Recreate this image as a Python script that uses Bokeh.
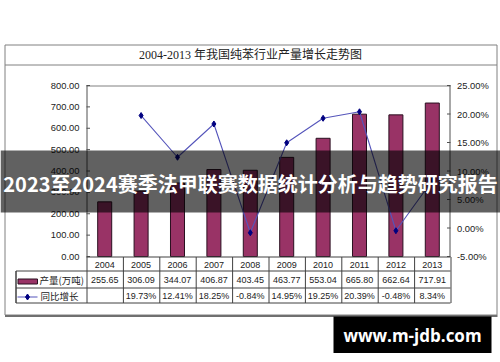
from bokeh.plotting import figure
from bokeh.models import Range1d
from bokeh.core.properties import value
from bokeh.embed import file_html
from bokeh.resources import INLINE

# ---------------- data ----------------
years = ["2004", "2005", "2006", "2007", "2008", "2009", "2010", "2011", "2012", "2013"]
output = [255.65, 306.09, 344.07, 406.87, 403.45, 463.77, 553.04, 665.80, 662.64, 717.91]
growth = [None, 19.73, 12.41, 18.25, -0.84, 14.95, 19.25, 20.39, -0.48, 8.34]
left_ticks = [0, 100, 200, 300, 400, 500, 600, 700, 800]
right_ticks = [-5, 0, 5, 10, 15, 20, 25]
chart_title = "2004-2013 年我国纯苯行业产量增长走势图"
series_names = ["产量(万吨)", "同比增长"]
banner_text = "2023至2024赛季法甲联赛数据统计分析与趋势研究报告"
watermark_text = "www.m-jdb.com"

# ---------------- geometry (canvas pixels) ----------------
W, H = 500, 362
PL, PR, PT, PB = 86, 450, 85, 256          # plot area
N = len(years)
colw = (PR - PL) / N
YMIN, YMAX = left_ticks[0], left_ticks[-1]
ppu = (PB - PT) / (YMAX - YMIN)
PMIN, PMAX = right_ticks[0], right_ticks[-1]
ppp = (PB - PT) / (PMAX - PMIN)

p = figure(width=W, height=H,
           x_range=Range1d(-PL / colw, (W - PL) / colw),
           y_range=Range1d(YMIN - (H - PB) / ppu, YMAX + PT / ppu),
           x_axis_location=None, y_axis_location=None,
           output_backend="svg", toolbar_location=None,
           min_border=0)
p.extra_x_ranges = {"px": Range1d(0, W)}
p.extra_y_ranges = {"pct": Range1d(PMIN - (H - PB) / ppp, PMAX + PT / ppp),
                    "px": Range1d(H, 0)}
p.grid.visible = False
p.outline_line_color = None
p.background_fill_color = "white"
p.border_fill_color = "white"

AX_FONT = value("Liberation Sans")
CJK = value("Noto Sans CJK SC")
TXT = "#222222"
AXC = "#505050"
GRAYL = "#808080"
TBL = "#404040"
BAR = "#993366"
BAR_EDGE = "#2a1020"
LINE = "#5555bb"
MARK = "#000080"

xi = [years.index(y) + 0.5 for y in years]      # category centres

# ---------------- frame: outer box and title cell ----------------
p.quad(left=[4.5], right=[496.5], top=[44.5], bottom=[314.5], fill_color=None,
       line_color=GRAYL, line_width=1, x_range_name="px", y_range_name="px")
p.segment(x0=[4.5], x1=[496.5], y0=[64.5], y1=[64.5], line_color=GRAYL,
          x_range_name="px", y_range_name="px")
p.quad(left=[4.5], right=[497], top=[314.5], bottom=[316.5], fill_color="#707070",
       line_color=None, x_range_name="px", y_range_name="px")
p.text(x=[250], y=[54.5], text=[chart_title], text_align="center", text_baseline="middle",
       text_font=value("Liberation Serif, Noto Sans CJK SC"), text_font_size="12px",
       text_color=TXT, x_range_name="px", y_range_name="px")

# ---------------- plot area border & axes ----------------
p.segment(x0=[PL], x1=[PR], y0=[PT + 0.5], y1=[PT + 0.5], line_color=GRAYL,
          x_range_name="px", y_range_name="px")
p.segment(x0=[PL + 0.5], x1=[PL + 0.5], y0=[PT], y1=[PB], line_color=AXC,
          x_range_name="px", y_range_name="px")
p.segment(x0=[PR - 0.5], x1=[PR - 0.5], y0=[PT], y1=[PB], line_color=AXC,
          x_range_name="px", y_range_name="px")
p.segment(x0=[PL] * len(left_ticks), x1=[PL + 3.5] * len(left_ticks),
          y0=left_ticks, y1=left_ticks, line_color=AXC, x_range_name="px")
p.text(x=[PL - 7] * len(left_ticks), y=left_ticks, text=["%.2f" % t for t in left_ticks],
       text_align="right", text_baseline="middle", text_font=AX_FONT,
       text_font_size="9.4px", text_color=TXT, x_range_name="px")
p.segment(x0=[PR - 3.5] * len(right_ticks), x1=[PR] * len(right_ticks),
          y0=right_ticks, y1=right_ticks, line_color=AXC,
          x_range_name="px", y_range_name="pct")
p.text(x=[PR + 6.5] * len(right_ticks), y=right_ticks,
       text=["%.2f%%" % t for t in right_ticks],
       text_align="left", text_baseline="middle", text_font=AX_FONT,
       text_font_size="9.4px", text_color=TXT, x_range_name="px", y_range_name="pct")

# ---------------- series ----------------
p.vbar(x=xi, top=output, bottom=0, width=0.385,
       fill_color=BAR, line_color=BAR_EDGE, line_width=1)
gx = [x for x, g in zip(xi, growth) if g is not None]
gv = [g for g in growth if g is not None]
p.line(gx, gv, y_range_name="pct", line_color=LINE, line_width=1.1)
p.scatter(gx, gv, y_range_name="pct", marker="diamond", size=6,
          fill_color=MARK, line_color=MARK)

# ---------------- data table ----------------
R0, R1, R2, R3 = PB + 0.5, 270.5, 287.5, 302.5
LEGL = 15.5
col_edges = [PL + 0.5 + i * colw for i in range(N + 1)]
p.segment(x0=col_edges, x1=col_edges, y0=[R0] * (N + 1), y1=[R3] * (N + 1),
          line_color=TBL, x_range_name="px", y_range_name="px")
p.segment(x0=[LEGL, LEGL], x1=[LEGL, LEGL], y0=[R1, R1], y1=[R3, R3],
          line_color=TBL, x_range_name="px", y_range_name="px")
p.segment(x0=[PL, LEGL, LEGL, LEGL], x1=[PR, PR, PR, PR], y0=[R0, R1, R2, R3],
          y1=[R0, R1, R2, R3], line_color=TBL, x_range_name="px", y_range_name="px")

prod_txt = ["%.2f" % v for v in output]
grow_txt = ["" if g is None else "%.2f%%" % g for g in growth]
for texts, ymid in ((years, (R0 + R1) / 2), (prod_txt, (R1 + R2) / 2), (grow_txt, (R2 + R3) / 2)):
    p.text(x=xi, y=[ymid + 0.5] * N, text=texts, text_align="center", text_baseline="middle",
           text_font=AX_FONT, text_font_size="9px", text_color=TXT, y_range_name="px")

# legend keys
p.quad(left=[17.5], right=[37], top=[278.5], bottom=[283.5], fill_color=BAR,
       line_color=BAR_EDGE, x_range_name="px", y_range_name="px")
p.segment(x0=[17], x1=[37], y0=[296.5], y1=[296.5], line_color=LINE, line_width=1.1,
          x_range_name="px", y_range_name="px")
p.scatter(x=[27], y=[296.5], marker="diamond", size=6, fill_color=MARK, line_color=MARK,
          x_range_name="px", y_range_name="px")
p.text(x=[39, 40], y=[279.5, 295.5], text=series_names, text_align="left",
       text_baseline="middle", text_font=CJK, text_font_size="9.5px", text_color=TXT,
       x_range_name="px", y_range_name="px")

# ---------------- overlay banner ----------------
p.quad(left=[0], right=[W], top=[150], bottom=[212], fill_color="black", fill_alpha=0.62,
       line_color=None, x_range_name="px", y_range_name="px")
p.text(x=[W / 2], y=[182.5], text=[banner_text], text_align="center", text_baseline="middle",
       text_font=CJK, text_font_style="bold", text_font_size="20px", text_color="white",
       x_range_name="px", y_range_name="px")

# ---------------- watermark ----------------
p.quad(left=[333], right=[491], top=[316], bottom=[352.5], fill_color="black",
       line_color=None, x_range_name="px", y_range_name="px")
p.text(x=[412], y=[334.5], text=[watermark_text], text_align="center", text_baseline="middle",
       text_font=value("Open Sans"), text_font_style="bold", text_font_size="17px",
       text_color="white", x_range_name="px", y_range_name="px")

open("out.html", "w").write(file_html(p, INLINE))
